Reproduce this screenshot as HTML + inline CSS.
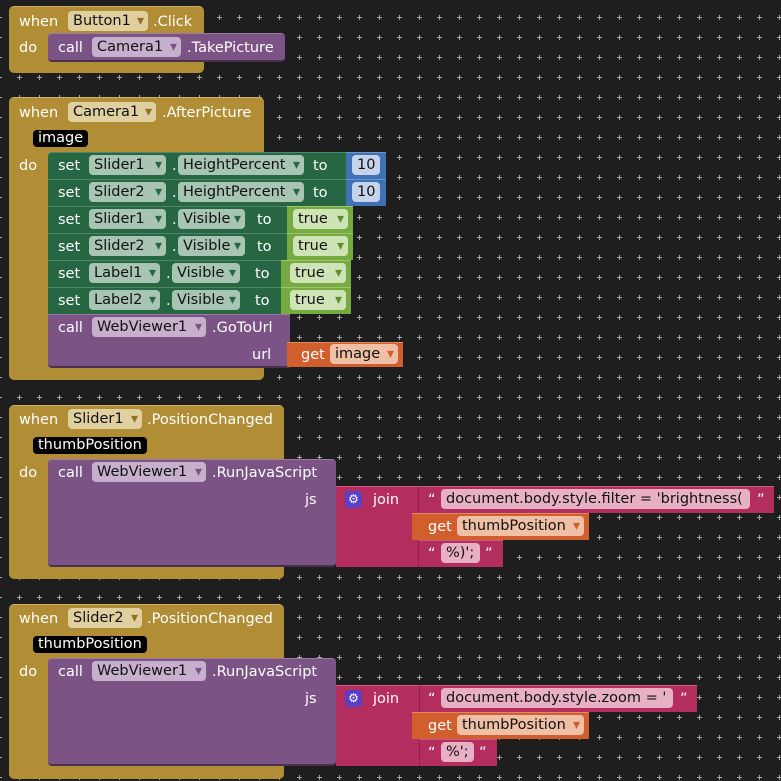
<!DOCTYPE html>
<html><head><meta charset="utf-8"><style>
body{margin:0;width:781px;height:781px;background:#1e1e1e;overflow:hidden;position:relative;font-family:"DejaVu Sans","Liberation Sans",sans-serif;font-size:14.5px;}
.grid{position:absolute;left:0;top:0}
.b{position:absolute;box-sizing:border-box}
.g{background:#b18e35;border-radius:5px;border-top:1px solid #cdb066;}
.p{background:#7c5385;border-top:1px solid #9a7aa2;border-bottom:2px solid #4a304f}
.s{background:#266643;border-top:1px solid #4d8766;border-bottom:1px solid #1a4a30}
.n{background:#3f71b5;border-top:1px solid #6d94cb}
.t{background:#77ab41;border-top:1px solid #9cc56f}
.o{background:#d05f2d;border-top:1px solid #e08a62}
.k{background:#b32d5e;border-top:1px solid #c95c84}
.x{position:absolute;color:#fff;line-height:18px;white-space:nowrap;margin-top:1px}
.f{position:absolute;line-height:20px;height:20px;margin-top:-1px;border-radius:4px;color:#111;padding-left:5px;box-sizing:border-box;white-space:nowrap}
.fg{background:#e0d0a0}.fp{background:#c7b0cd}.fs{background:#a8c5b3}.fn{background:#c5d4eb}.ft{background:#cfe4b6}.fo{background:#f0c0a6}.fk{background:#e8b0c4}
.a{position:absolute;right:4px;top:0;font-size:14px}
.ag{color:#8f7026}.ap{color:#7c5385}.as{color:#266643}.at{color:#5d8f28}.ao{color:#d05f2d}
.lbl{position:absolute;background:#000;color:#fff;border-radius:4px;line-height:17px;height:17px;padding:0 5px;white-space:nowrap}
</style></head><body>
<svg class="grid" width="781" height="781" shape-rendering="crispEdges"><defs><pattern id="pp" x="9" y="7" width="20" height="20" patternUnits="userSpaceOnUse"><rect x="8" y="10" width="5" height="1" fill="#a8a8a8"/><rect x="10" y="8" width="1" height="5" fill="#a8a8a8"/></pattern></defs><rect x="0" y="0" width="781" height="781" fill="url(#pp)"/></svg>

<!-- Block 1 -->
<div class="b g" style="left:9px;top:6px;width:195px;height:67px"></div>
<div class="x" style="left:19px;top:12px">when</div>
<div class="f fg" style="left:68px;top:12px;width:80px">Button1<span class="a ag">▾</span></div>
<div class="x" style="left:153px;top:12px">.Click</div>
<div class="x" style="left:19px;top:38px">do</div>
<div class="b p" style="left:48px;top:33px;width:237px;height:29px;border-radius:4px"></div>
<div class="x" style="left:58px;top:38px">call</div>
<div class="f fp" style="left:92px;top:38px;width:89px">Camera1<span class="a ap">▾</span></div>
<div class="x" style="left:187px;top:38px">.TakePicture</div>

<!-- Block 2 -->
<div class="b g" style="left:9px;top:97px;width:255px;height:283px"></div>
<div class="x" style="left:19px;top:103px">when</div>
<div class="f fg" style="left:68px;top:103px;width:88px">Camera1<span class="a ag">▾</span></div>
<div class="x" style="left:162px;top:103px">.AfterPicture</div>
<div class="lbl" style="left:33px;top:130px">image</div>
<div class="x" style="left:19px;top:156px">do</div>

<div class="b s" style="left:48px;top:152px;width:300px;height:28px;border-radius:4px 0 0 0"></div>
<div class="b n" style="left:346px;top:152px;width:40px;height:27px"></div>
<div class="x" style="left:58px;top:156px">set</div>
<div class="f fs" style="left:89px;top:156px;width:77px">Slider1<span class="a as">▾</span></div>
<div class="x" style="left:172px;top:156px">.</div>
<div class="f fs" style="left:178px;top:156px;width:126px">HeightPercent<span class="a as">▾</span></div>
<div class="x" style="left:313px;top:156px">to</div>
<div class="f fn" style="left:352px;top:156px;width:28px">10</div>

<div class="b s" style="left:48px;top:179px;width:300px;height:28px"></div>
<div class="b n" style="left:346px;top:179px;width:40px;height:27px"></div>
<div class="x" style="left:58px;top:183px">set</div>
<div class="f fs" style="left:89px;top:183px;width:77px">Slider2<span class="a as">▾</span></div>
<div class="x" style="left:172px;top:183px">.</div>
<div class="f fs" style="left:178px;top:183px;width:126px">HeightPercent<span class="a as">▾</span></div>
<div class="x" style="left:313px;top:183px">to</div>
<div class="f fn" style="left:352px;top:183px;width:28px">10</div>

<div class="b s" style="left:48px;top:206px;width:242px;height:28px"></div>
<div class="b t" style="left:287px;top:206px;width:66px;height:27px"></div>
<div class="x" style="left:58px;top:210px">set</div>
<div class="f fs" style="left:89px;top:210px;width:77px">Slider1<span class="a as">▾</span></div>
<div class="x" style="left:172px;top:210px">.</div>
<div class="f fs" style="left:178px;top:210px;width:67px">Visible<span class="a as">▾</span></div>
<div class="x" style="left:257px;top:210px">to</div>
<div class="f ft" style="left:293px;top:210px;width:55px">true<span class="a at">▾</span></div>

<div class="b s" style="left:48px;top:233px;width:242px;height:28px"></div>
<div class="b t" style="left:287px;top:233px;width:66px;height:27px"></div>
<div class="x" style="left:58px;top:237px">set</div>
<div class="f fs" style="left:89px;top:237px;width:77px">Slider2<span class="a as">▾</span></div>
<div class="x" style="left:172px;top:237px">.</div>
<div class="f fs" style="left:178px;top:237px;width:67px">Visible<span class="a as">▾</span></div>
<div class="x" style="left:257px;top:237px">to</div>
<div class="f ft" style="left:293px;top:237px;width:55px">true<span class="a at">▾</span></div>

<div class="b s" style="left:48px;top:260px;width:236px;height:28px"></div>
<div class="b t" style="left:281px;top:260px;width:70px;height:27px"></div>
<div class="x" style="left:58px;top:264px">set</div>
<div class="f fs" style="left:89px;top:264px;width:71px">Label1<span class="a as">▾</span></div>
<div class="x" style="left:166px;top:264px">.</div>
<div class="f fs" style="left:172px;top:264px;width:68px">Visible<span class="a as">▾</span></div>
<div class="x" style="left:255px;top:264px">to</div>
<div class="f ft" style="left:290px;top:264px;width:56px">true<span class="a at">▾</span></div>

<div class="b s" style="left:48px;top:287px;width:236px;height:28px"></div>
<div class="b t" style="left:281px;top:287px;width:70px;height:27px"></div>
<div class="x" style="left:58px;top:291px">set</div>
<div class="f fs" style="left:89px;top:291px;width:71px">Label2<span class="a as">▾</span></div>
<div class="x" style="left:166px;top:291px">.</div>
<div class="f fs" style="left:172px;top:291px;width:68px">Visible<span class="a as">▾</span></div>
<div class="x" style="left:255px;top:291px">to</div>
<div class="f ft" style="left:290px;top:291px;width:56px">true<span class="a at">▾</span></div>

<div class="b p" style="left:48px;top:314px;width:242px;height:54px;border-radius:0 0 0 4px"></div>
<div class="x" style="left:58px;top:318px">call</div>
<div class="f fp" style="left:92px;top:318px;width:114px">WebViewer1<span class="a ap">▾</span></div>
<div class="x" style="left:212px;top:318px">.GoToUrl</div>
<div class="x" style="left:252px;top:345px">url</div>
<div class="b o" style="left:287px;top:342px;width:116px;height:25px"></div>
<div class="x" style="left:301px;top:345px">get</div>
<div class="f fo" style="left:330px;top:345px;width:68px">image<span class="a ao">▾</span></div>

<!-- Block 3 -->
<div class="b g" style="left:9px;top:405px;width:275px;height:174px"></div>
<div class="x" style="left:19px;top:410px">when</div>
<div class="f fg" style="left:68px;top:410px;width:74px">Slider1<span class="a ag">▾</span></div>
<div class="x" style="left:147px;top:410px">.PositionChanged</div>
<div class="lbl" style="left:33px;top:437px">thumbPosition</div>
<div class="x" style="left:19px;top:463px">do</div>
<div class="b p" style="left:48px;top:459px;width:288px;height:108px;border-radius:4px"></div>
<div class="x" style="left:58px;top:463px">call</div>
<div class="f fp" style="left:92px;top:463px;width:114px">WebViewer1<span class="a ap">▾</span></div>
<div class="x" style="left:212px;top:463px">.RunJavaScript</div>
<div class="x" style="left:305px;top:490px">js</div>
<div class="b k" style="left:336px;top:486px;width:82px;height:81px"></div>
<div class="b" style="left:345px;top:491px;width:17px;height:17px;background:#5b3fc4;border-radius:4px;color:#fff;font-size:12px;line-height:17px;text-align:center">⚙</div>
<div class="x" style="left:373px;top:490px">join</div>
<div class="b k" style="left:418px;top:486px;width:356px;height:27px;border-left:1px solid #8e2149"></div>
<div class="x" style="left:428px;top:490px">“</div>
<div class="f fk" style="left:441px;top:490px;width:309px">document.body.style.filter = 'brightness(</div>
<div class="x" style="left:757px;top:490px">”</div>
<div class="b o" style="left:412px;top:513px;width:177px;height:27px"></div>
<div class="x" style="left:428px;top:517px">get</div>
<div class="f fo" style="left:457px;top:517px;width:127px">thumbPosition<span class="a ao">▾</span></div>
<div class="b k" style="left:418px;top:540px;width:85px;height:27px;border-left:1px solid #8e2149"></div>
<div class="x" style="left:428px;top:544px">“</div>
<div class="f fk" style="left:441px;top:544px;width:39px">%)';</div>
<div class="x" style="left:485px;top:544px">”</div>

<!-- Block 4 -->
<div class="b g" style="left:9px;top:604px;width:275px;height:175px"></div>
<div class="x" style="left:19px;top:609px">when</div>
<div class="f fg" style="left:68px;top:609px;width:74px">Slider2<span class="a ag">▾</span></div>
<div class="x" style="left:147px;top:609px">.PositionChanged</div>
<div class="lbl" style="left:33px;top:636px">thumbPosition</div>
<div class="x" style="left:19px;top:662px">do</div>
<div class="b p" style="left:48px;top:658px;width:288px;height:108px;border-radius:4px"></div>
<div class="x" style="left:58px;top:662px">call</div>
<div class="f fp" style="left:92px;top:662px;width:114px">WebViewer1<span class="a ap">▾</span></div>
<div class="x" style="left:212px;top:662px">.RunJavaScript</div>
<div class="x" style="left:305px;top:689px">js</div>
<div class="b k" style="left:336px;top:685px;width:83px;height:81px"></div>
<div class="b" style="left:345px;top:690px;width:17px;height:17px;background:#5b3fc4;border-radius:4px;color:#fff;font-size:12px;line-height:17px;text-align:center">⚙</div>
<div class="x" style="left:373px;top:689px">join</div>
<div class="b k" style="left:419px;top:685px;width:278px;height:27px;border-left:1px solid #8e2149"></div>
<div class="x" style="left:428px;top:689px">“</div>
<div class="f fk" style="left:441px;top:689px;width:232px">document.body.style.zoom = '</div>
<div class="x" style="left:680px;top:689px">”</div>
<div class="b o" style="left:412px;top:712px;width:177px;height:27px"></div>
<div class="x" style="left:428px;top:716px">get</div>
<div class="f fo" style="left:457px;top:716px;width:127px">thumbPosition<span class="a ao">▾</span></div>
<div class="b k" style="left:419px;top:739px;width:78px;height:27px;border-left:1px solid #8e2149"></div>
<div class="x" style="left:428px;top:743px">“</div>
<div class="f fk" style="left:441px;top:743px;width:33px">%';</div>
<div class="x" style="left:479px;top:743px">”</div>
</body></html>
